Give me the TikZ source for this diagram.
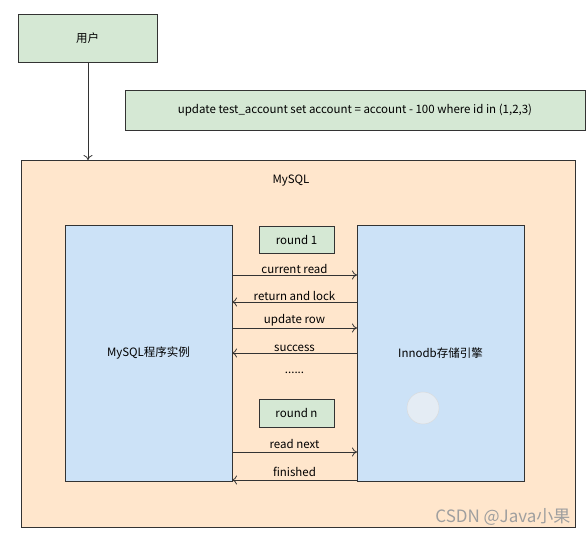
\documentclass[tikz,border=0pt]{standalone}
\usepackage{fontspec}
\setmainfont{Noto Sans CJK SC}
\usetikzlibrary{arrows.meta}
\definecolor{gfill}{HTML}{D5E8D4}
\definecolor{ofill}{HTML}{FFE6CC}
\definecolor{bfill}{HTML}{CCE2F7}
\definecolor{cfill}{HTML}{E4ECF4}
\definecolor{edge}{HTML}{333333}
\begin{document}
\begin{tikzpicture}[x=1pt,y=-1pt,
  txt/.style={font=\fontsize{11.5}{13}\selectfont},
  box/.style={draw=edge,line width=0.9pt,inner sep=0pt,txt},
  gbox/.style={box,fill=gfill},
  lbl/.style={txt,inner sep=1pt,anchor=south},
  msg/.style={draw=edge,line width=0.8pt,-{To[length=5pt,width=9pt]}}]
\useasboundingbox (0,0) rectangle (587,537);
\fill[white] (0,0) rectangle (587,537);
% user
\node[gbox,minimum width=139pt,minimum height=48pt] (user) at (87.5,38) {用户};
\node[gbox,minimum width=460pt,minimum height=40pt] (sql) at (355,110) {update test\_account set account = account - 100 where id in (1,2,3)};
% mysql outer
\node[box,fill=ofill,minimum width=554pt,minimum height=367pt] (mysql) at (298,343.5) {};
\node[txt] (mysqllbl) at (291,181) {MySQL};
\coordinate (arrend) at (88,160);
\draw[msg] (user.south -| arrend) -- (arrend);
% inner boxes
\node[box,fill=bfill,minimum width=167pt,minimum height=256pt] (prog) at (148.5,353) {MySQL程序实例};
\node[box,fill=bfill,minimum width=167pt,minimum height=256pt] (inno) at (440.5,353) {Innodb存储引擎};
\node[gbox,minimum width=75pt,minimum height=27pt] (r1) at (296.5,239.5) {round 1};
\node[gbox,minimum width=75pt,minimum height=28pt] (rn) at (296.5,413) {round n};
% messages
\coordinate (p1) at (232,275); \coordinate (i1) at (357,275);
\coordinate (p2) at (232,302); \coordinate (i2) at (357,302);
\coordinate (p3) at (232,328); \coordinate (i3) at (357,328);
\coordinate (p4) at (232,353); \coordinate (i4) at (357,353);
\coordinate (p5) at (232,452); \coordinate (i5) at (357,452);
\coordinate (p6) at (232,480); \coordinate (i6) at (357,480);
\draw[msg] (p1) -- node[lbl] {current read} (i1);
\draw[msg] (i2) -- node[lbl] {return and lock} (p2);
\draw[msg] (p3) -- node[lbl] {update row} (i3);
\draw[msg] (i4) -- node[lbl] {success} (p4);
\node[txt] (dots) at (294.5,373) {......};
\draw[msg] (p5) -- node[lbl,yshift=2pt] {read next} (i5);
\draw[msg] (i6) -- node[lbl,yshift=2pt] {finished} (p6);
% cursor circle
\node[circle,draw=gray!30,fill=cfill,minimum size=32pt,inner sep=0pt] (cur) at (423,408) {};
% watermark
\node[font=\fontsize{17}{19}\selectfont,text=gray!75,anchor=east] (wm) at (574,517) {CSDN @Java小果};
\end{tikzpicture}
\end{document}
